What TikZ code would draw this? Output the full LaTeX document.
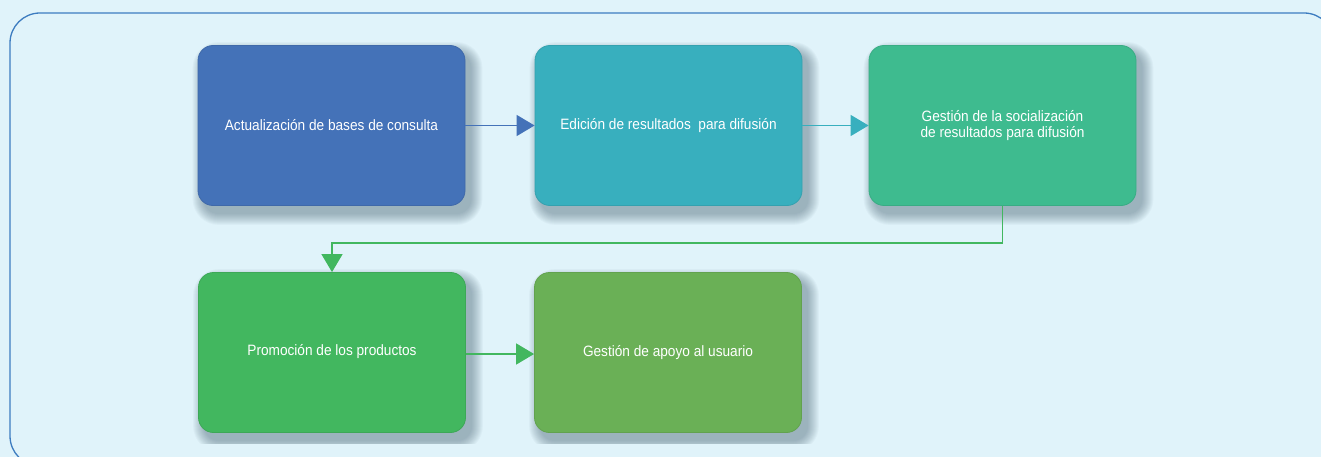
\documentclass[tikz,border=0pt]{standalone}
\usepackage{fontspec}
\setmainfont{Liberation Sans}[FakeStretch=0.91]
\usetikzlibrary{arrows.meta,calc}
\pgfdeclarelayer{back}
\pgfdeclarelayer{shad}
\pgfsetlayers{back,shad,main}
\definecolor{bgc}{HTML}{E0F3FA}
\definecolor{framec}{HTML}{3D7CC0}
\definecolor{shc}{HTML}{3A5566}
\definecolor{cA}{HTML}{4472B8}
\definecolor{cB}{HTML}{38AFBE}
\definecolor{cC}{HTML}{3EBB8F}
\definecolor{cD}{HTML}{42B75F}
\definecolor{cE}{HTML}{6AB056}
\tikzset{
  stepbox/.style={rounded corners=15pt, minimum width=267pt, minimum height=160pt,
    inner sep=0pt, text=white, align=center, line width=0.8pt,
    font=\fontsize{15}{16.7}\selectfont},
  conn/.style={line width=1.4pt, -{Triangle[length=18pt,width=21pt]}}
}
\newcommand\softshadow[1]{%
  \foreach \k in {0,...,11}{%
    \fill[shc, opacity=0.04, rounded corners={15pt+\k pt}]
      ($(#1.south west)+(6-\k,8+\k)$) rectangle ($(#1.north east)+(6+\k,8-\k)$);
  }%
}
\begin{document}
\begin{tikzpicture}[x=1pt,y=-1pt]
\clip (0,0) rectangle (1321,457);
\begin{pgfonlayer}{back}
\fill[bgc] (0,0) rectangle (1321,457);
\draw[framec, line width=1.3pt, fill=bgc, rounded corners=30pt] (10,13) rectangle (1334,466);
\end{pgfonlayer}
\node[stepbox, fill=cA, draw=cA!92!black] (b1) at (331.5,125.5) {Actualización de bases de consulta};
\node[stepbox, fill=cB, draw=cB!92!black] (b2) at (668.5,125.5) {Edición de resultados\ \ para difusión};
\node[stepbox, fill=cC, draw=cC!92!black] (b3) at (1002.5,125.5) {Gestión de la socialización\\de resultados para difusión};
\node[stepbox, fill=cD, draw=cD!92!black] (b4) at (332,352.5) {\raisebox{6pt}{Promoción de los productos}};
\node[stepbox, fill=cE, draw=cE!92!black] (b5) at (668,352.5) {\raisebox{-4pt}{Gestión de apoyo al usuario}};
\begin{pgfonlayer}{shad}
\softshadow{b1}
\softshadow{b2}
\softshadow{b3}
\softshadow{b4}
\softshadow{b5}
\fill[bgc] (100,443.5) rectangle (900,458);
\end{pgfonlayer}
\draw[conn, cA] (b1.east) -- (b2.west);
\draw[conn, cB] (b2.east) -- (b3.west);
\draw[conn, cD] (b3.south) -- ++(0,37) -| (b4.north);
\draw[conn, cD] ($(b4.east)+(0,1.5)$) -- ($(b5.west)+(0,1.5)$);
\end{tikzpicture}
\end{document}
